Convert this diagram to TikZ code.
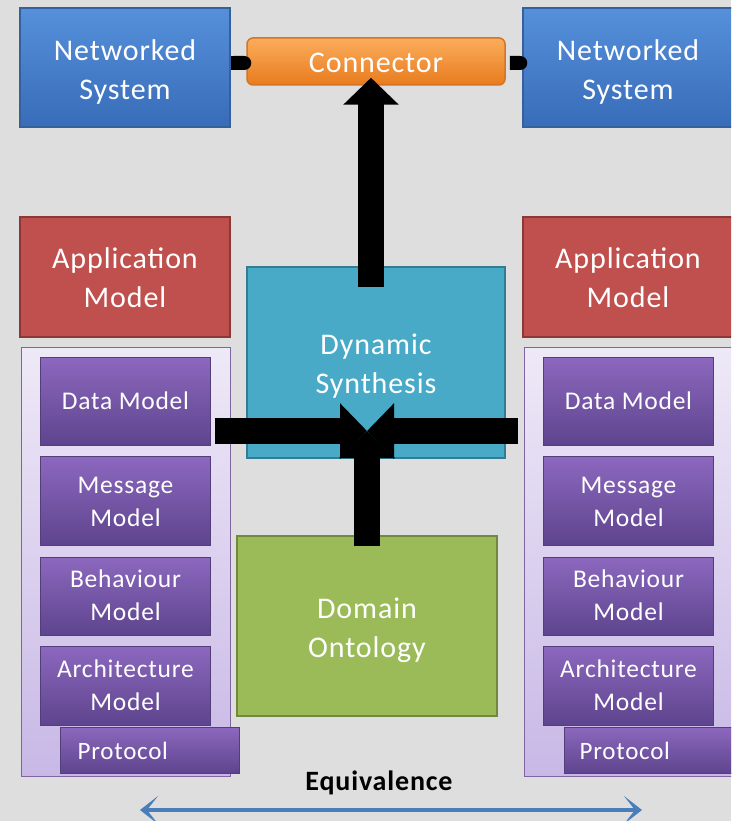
\documentclass[tikz,border=0pt]{standalone}
\usepackage{fontspec}
\setmainfont[LetterSpace=3]{Carlito}
\usetikzlibrary{arrows.meta}

\definecolor{bgc}{RGB}{222,222,222}
\definecolor{nsTop}{RGB}{86,144,218}
\definecolor{nsBot}{RGB}{56,108,184}
\definecolor{nsLine}{RGB}{52,96,156}
\definecolor{conTop}{RGB}{251,172,92}
\definecolor{conBot}{RGB}{232,124,30}
\definecolor{conLine}{RGB}{214,116,36}
\definecolor{appFill}{RGB}{192,80,77}
\definecolor{appLine}{RGB}{140,56,54}
\definecolor{dsFill}{RGB}{72,170,198}
\definecolor{dsLine}{RGB}{50,125,145}
\definecolor{doFill}{RGB}{155,187,89}
\definecolor{doLine}{RGB}{113,137,63}
\definecolor{cntTop}{RGB}{238,233,247}
\definecolor{cntBot}{RGB}{200,184,230}
\definecolor{cntLine}{RGB}{128,100,162}
\definecolor{mdTop}{RGB}{140,104,190}
\definecolor{mdBot}{RGB}{94,68,142}
\definecolor{mdLine}{RGB}{84,62,122}
\definecolor{eqBlue}{RGB}{74,126,187}

% centred lines, set a little below the middle of their box
\newcommand\lowtext[2][4pt]{%
  \raisebox{-#1}[\height][\depth]{\begin{tabular}{@{}c@{}}#2\end{tabular}}}

\tikzset{
  box/.style 2 args={draw, line width=1.5pt, inner sep=0pt, align=center,
    text=white, minimum width=#1, minimum height=#2,
    font=\fontsize{30}{39}\selectfont},
  netbox/.style={box={210pt}{119pt}, top color=nsTop, bottom color=nsBot, draw=nsLine},
  appbox/.style={box={210pt}{120pt}, fill=appFill, draw=appLine},
  holder/.style={draw=cntLine, line width=1pt, top color=cntTop, bottom color=cntBot,
    minimum width=209pt, minimum height=429pt, inner sep=0pt},
  mdbox/.style={box={170pt}{#1}, top color=mdTop, bottom color=mdBot, draw=mdLine,
    line width=1pt, font=\fontsize{25.5}{33}\selectfont},
  protobox/.style={draw=mdLine, line width=1pt, top color=mdTop, bottom color=mdBot,
    minimum width=179pt, minimum height=46pt, inner sep=0pt},
  prototext/.style={anchor=west, text=white, font=\fontsize{25}{33}\selectfont, inner sep=0pt},
  bigarrow/.style={line width=26pt, -{Triangle[length=27pt, width=54pt]}},
  link/.style={line width=14pt, -{Round Cap[]}},
}

\begin{document}
\begin{tikzpicture}[x=1pt, y=-1pt]
  \useasboundingbox (0,0) rectangle (731,821);
  \clip (0,0) rectangle (731,821);
  \fill[bgc] (0,0) rectangle (731,821);

  % top row: two networked systems joined by the connector
  \node[netbox] (ns1) at (125,67.5) {\lowtext[5pt]{Networked\\System}};
  \node[netbox] (ns2) at (628,67.5) {\lowtext[5pt]{Networked\\System}};
  \node[box={258pt}{47pt}, rounded corners=6pt, top color=conTop, bottom color=conBot,
        draw=conLine] (conn) at (376,61.5) {\lowtext[3pt]{Connector}};

  \draw[link] (ns1.east |- 0,63) -- ([xshift=5pt,yshift=-1.5pt]conn.west);
  \draw[link, shorten <=12pt] ([yshift=-1.5pt]conn.east) -- ([xshift=5pt]ns2.west |- 0,63);

  % application models
  \node[appbox] (app1) at (125,277) {\lowtext[3pt]{Application\\Model}};
  \node[appbox] (app2) at (628,277) {\lowtext[3pt]{Application\\Model}};

  % model stacks
  \node[holder] (cnt1) at (125.5,561.5) {};
  \node[holder] (cnt2) at (628.5,561.5) {};

  \node[mdbox=88pt] (dm1) at (125.5,401) {\lowtext[2pt]{Data Model}};
  \node[mdbox=89pt] (mm1) at (125.5,500.5) {\lowtext[3pt]{Message\\Model}};
  \node[mdbox=78pt] (bm1) at (125.5,596) {\lowtext[1pt]{Behaviour\\Model}};
  \node[mdbox=79pt] (am1) at (125.5,685.5) {\lowtext[1.5pt]{Architecture\\Model}};
  \node[protobox] (pr1) at (149.5,750) {};
  \node[prototext] (pt1) at ([xshift=18pt,yshift=-1pt]pr1.west) {Protocol};

  \node[mdbox=88pt] (dm2) at (628.5,401) {\lowtext[2pt]{Data Model}};
  \node[mdbox=89pt] (mm2) at (628.5,500.5) {\lowtext[3pt]{Message\\Model}};
  \node[mdbox=78pt] (bm2) at (628.5,596) {\lowtext[1pt]{Behaviour\\Model}};
  \node[mdbox=79pt] (am2) at (628.5,685.5) {\lowtext[1.5pt]{Architecture\\Model}};
  \node[protobox] (pr2) at (653.5,750) {};
  \node[prototext] (pt2) at ([xshift=16pt,yshift=-1pt]pr2.west) {Protocol};

  % synthesis and ontology
  \node[box={258pt}{191pt}, fill=dsFill, draw=dsLine] (ds) at (376,362.5)
       {\lowtext{Dynamic\\Synthesis}};
  \node[box={260pt}{180pt}, fill=doFill, draw=doLine] (dom) at (367,626)
       {\lowtext{Domain\\Ontology}};

  % inputs converging on the synthesis
  \coordinate (hub) at (367,431);
  \coordinate (lin) at (215,431);
  \coordinate (rin) at (518,431);
  \draw[bigarrow] (lin) -- (hub);
  \draw[bigarrow] (rin) -- (hub);
  \draw[bigarrow] ([yshift=-11pt]dom.north) -- (hub);
  \draw[bigarrow] ([xshift=-5pt,yshift=-21pt]ds.north) -- ([xshift=-5pt,yshift=8pt]conn.south);

  % equivalence between the two sides
  \node[font=\fontsize{28}{34}\selectfont\bfseries] (eq) at (379,783) {Equivalence};
  \coordinate (eqL) at (140,810);
  \coordinate (eqR) at (642,810);
  \draw[eqBlue, line width=4.5pt,
        {Stealth[length=18pt, width=28pt, inset=11pt]}-{Stealth[length=18pt, width=28pt, inset=11pt]}]
       (eqL) -- (eqR);
\end{tikzpicture}
\end{document}
